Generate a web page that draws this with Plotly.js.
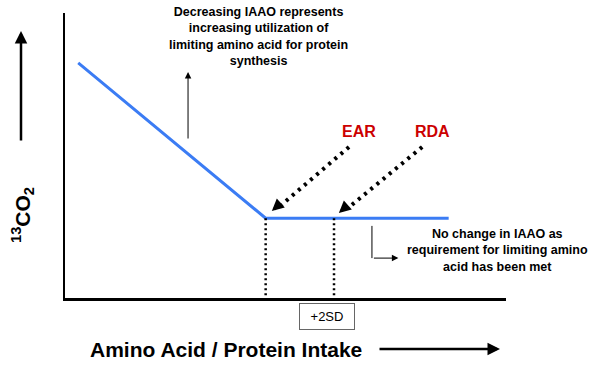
<!DOCTYPE html>
<html>
<head>
<meta charset="utf-8">
<script src="https://cdn.plot.ly/plotly-3.0.1.min.js"></script>
<style>html,body{margin:0;padding:0;background:#fff}#chart{width:600px;height:365px}</style>
</head>
<body>
<div id="chart"></div>
<script>
// Conceptual IAAO breakpoint curve (arbitrary units)
const intake = [3, 45.5, 87];          // amino acid / protein intake
const co2 = [82.5, 28, 28];            // 13CO2 oxidation
const earX = 45.5;                     // EAR (breakpoint)
const rdaX = 61;                       // RDA (+2SD)
const plateau = 28;

const FONT = 'Liberation Sans, Arial, sans-serif';
const BOLD = 'Liberation Sans, Arial, sans-serif';

const traces = [
  {x: intake, y: co2, mode: 'lines', line: {color: '#3b7cf4', width: 3}, hoverinfo: 'skip'},
  {x: [earX, earX], y: [plateau, 0], mode: 'lines', line: {color: '#000', width: 2.5, dash: '2px,3px'}, hoverinfo: 'skip'},
  {x: [rdaX, rdaX], y: [plateau, 0], mode: 'lines', line: {color: '#000', width: 2.5, dash: '2px,3px'}, hoverinfo: 'skip'}
];

function dottedArrow(x0, y0, x1, y1) {
  return {type: 'line', xref: 'x', yref: 'y', x0: x0, y0: y0, x1: x1, y1: y1,
          line: {color: '#000', width: 4, dash: '3px,5px'}};
}
function px(x) { return (x - 65) / 441; }
function py(y) { return (298 - y) / 285; }
function note(x, y, text, font, extra) {
  return Object.assign({x: px(x), y: py(y), xref: 'paper', yref: 'paper', showarrow: false,
    xanchor: 'center', yanchor: 'middle', text: text, font: font}, extra || {});
}

const layout = {
  width: 600, height: 365,
  margin: {l: 65, r: 94, t: 13, b: 67},
  paper_bgcolor: '#fff', plot_bgcolor: '#fff',
  showlegend: false,
  xaxis: {range: [0, 100], showline: true, linecolor: '#000', linewidth: 2.5, showgrid: false,
          zeroline: false, showticklabels: false, ticks: '', fixedrange: true},
  yaxis: {range: [0, 100], showline: true, linecolor: '#000', linewidth: 2.5, showgrid: false,
          zeroline: false, showticklabels: false, ticks: '', fixedrange: true},
  shapes: [
    dottedArrow(64.4, 53, 48.8, 32.3),
    dottedArrow(81, 53, 64.2, 31.6),
    // elbow connector
    {type: 'line', xref: 'x', yref: 'y', x0: 69.6, y0: 25.3, x1: 69.6, y1: 14, line: {color: '#000', width: 1}}
  ],
  annotations: [
    // arrowheads of dotted arrows
    {x: 46.9, y: 30.5, xref: 'x', yref: 'y', ax: 9, ay: -8, text: '', showarrow: true,
     arrowhead: 2, arrowsize: 0.8, arrowwidth: 3, arrowcolor: '#000'},
    {x: 62.1, y: 29.8, xref: 'x', yref: 'y', ax: 9, ay: -8, text: '', showarrow: true,
     arrowhead: 2, arrowsize: 0.8, arrowwidth: 3, arrowcolor: '#000'},
    // elbow connector head
    {x: 75.6, y: 14, xref: 'x', yref: 'y', ax: -26, ay: 0, text: '', showarrow: true,
     arrowhead: 2, arrowsize: 1.3, arrowwidth: 1, arrowcolor: '#000'},
    // thin up arrow
    {x: 27.9, y: 79.3, xref: 'x', yref: 'y', ax: 0, ay: 68, text: '', showarrow: true,
     arrowhead: 2, arrowsize: 1.3, arrowwidth: 1, arrowcolor: '#000'},
    // y-direction arrow
    {x: px(21), y: py(31), xref: 'paper', yref: 'paper', ax: 0, ay: 111, text: '', showarrow: true,
     arrowhead: 2, arrowsize: 1, arrowwidth: 2.5, arrowcolor: '#000'},
    // x-direction arrow
    {x: px(500), y: py(349), xref: 'paper', yref: 'paper', ax: -122, ay: 0, text: '', showarrow: true,
     arrowhead: 2, arrowsize: 1, arrowwidth: 2.5, arrowcolor: '#000'},
    // titles
    note(226, 349, '<b>Amino Acid / Protein Intake</b>', {family: BOLD, size: 21, color: '#000'}),
    note(22, 215, '<b><sup>13</sup>CO<sub>2</sub></b>', {family: BOLD, size: 21, color: '#000'}, {textangle: -90}),
    // notes
    note(258, 36, '<b>Decreasing IAAO represents<br>increasing utilization of<br>limiting amino acid for protein<br>synthesis</b>',
         {family: BOLD, size: 12.5, color: '#000'}),
    note(497, 250, '<b>No change in IAAO as<br>requirement for limiting amino<br>acid has been met</b>',
         {family: BOLD, size: 12.5, color: '#000'}),
    note(359, 131, '<b>EAR</b>', {family: BOLD, size: 16, color: '#cc0000'}),
    note(432, 131, '<b>RDA</b>', {family: BOLD, size: 16, color: '#cc0000'}),
    note(327, 316.5, '+2SD', {family: FONT, size: 13, color: '#000'},
         {bordercolor: '#666', borderwidth: 1, borderpad: 0, width: 54, height: 25, bgcolor: '#fff'})
  ]
};

Plotly.newPlot('chart', traces, layout, {displayModeBar: false, staticPlot: true});
</script>
</body>
</html>
